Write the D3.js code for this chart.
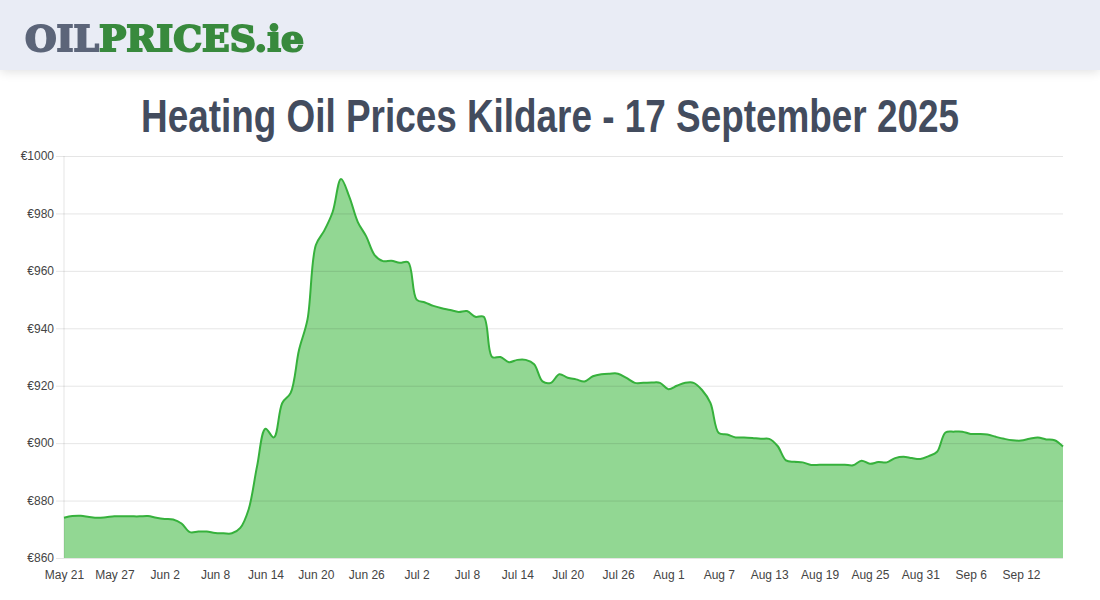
<!DOCTYPE html>
<html>
<head>
<meta charset="utf-8">
<script src="https://cdn.jsdelivr.net/npm/d3@7"></script>
<style>
  html, body { margin: 0; padding: 0; background: #fff; overflow: hidden; }
  #header { position: absolute; left: 0; top: 0; width: 1100px; height: 70px; background: #e9ecf5; box-shadow: 0 2px 10px rgba(0,0,0,0.12); }
  #chart { position: absolute; left: 0; top: 0; }
</style>
</head>
<body>
<div id="header"></div>
<svg id="chart" width="1100" height="600"></svg>
<script>
// daily price, one value per day from May 21
var prices = [
  874, 874.6, 874.7, 874.3, 874, 874.2, 874.5, 874.5, 874.5, 874.5,
  874.6, 874, 873.6, 873.4, 872, 869, 869.2, 869.2, 868.7, 868.6,
  868.6, 870.5, 877, 892, 905, 902, 914, 917.5, 932.5, 943,
  969, 974, 980.5, 992, 985.7, 977, 972, 965.5, 963.4, 963.5,
  962.8, 963, 950, 949, 947.8, 947, 946.4, 945.7, 946, 944,
  944, 930, 930, 928.2, 929, 929, 927.5, 921.5, 921, 924,
  922.8, 922.2, 921.5, 923.3, 924, 924.2, 924.2, 922.7, 921, 921,
  921.1, 921, 918.8, 920, 921, 921, 918.5, 914, 903.5, 903,
  902, 902, 901.8, 901.5, 901.5, 899, 894, 893.5, 893.3, 892.4,
  892.5, 892.5, 892.5, 892.5, 892.3, 893.9, 892.8, 893.4, 893.3, 894.8,
  895.3, 894.8, 894.5, 895.5, 897, 903.7, 904, 904, 903.2, 903.2,
  903, 902.2, 901.5, 901, 900.9, 901.5, 902, 901.3, 901, 898.8
];
// one label every 6 days
var xLabels = ["May 21", "May 27", "Jun 2", "Jun 8", "Jun 14", "Jun 20", "Jun 26", "Jul 2", "Jul 8", "Jul 14",
  "Jul 20", "Jul 26", "Aug 1", "Aug 7", "Aug 13", "Aug 19", "Aug 25", "Aug 31", "Sep 6", "Sep 12"];
var yTicks = [860, 880, 900, 920, 940, 960, 980, 1000];
var labelStep = 6;

var svg = d3.select("#chart"),
  plot = { left: 64, right: 1063, top: 156, bottom: 558 },
  gridColor = "rgba(0,0,0,0.1)";

var x = d3.scaleLinear().domain([0, prices.length - 1]).range([plot.left, plot.right]),
  y = d3.scaleLinear().domain([860, 1000]).range([plot.bottom, plot.top]);

// logo
var defs = svg.append("defs");
defs.append("filter").attr("id", "soft").append("feGaussianBlur").attr("stdDeviation", 0.5);
var logo = svg.append("text")
  .attr("x", 25).attr("y", 51)
  .attr("font-family", "'DejaVu Serif', serif")
  .attr("font-weight", "bold")
  .attr("font-size", 36)
  .attr("textLength", 279)
  .attr("lengthAdjust", "spacingAndGlyphs")
  .attr("stroke-width", 2)
  .attr("filter", "url(#soft)");
logo.append("tspan").attr("fill", "#5b6579").attr("stroke", "#5b6579").text("OIL");
logo.append("tspan").attr("fill", "#388a3c").attr("stroke", "#388a3c").text("PRICES.ie");

// title
svg.append("text")
  .attr("x", 550).attr("y", 132)
  .attr("text-anchor", "middle")
  .attr("font-family", "'Liberation Sans Narrow', 'Liberation Sans', sans-serif")
  .attr("font-weight", "bold")
  .attr("font-size", 47)
  .attr("fill", "#434c5e")
  .attr("textLength", 818)
  .attr("lengthAdjust", "spacingAndGlyphs")
  .text("Heating Oil Prices Kildare - 17 September 2025");

// area goes under the grid, the line over it
var curve = d3.curveCatmullRom.alpha(0.5);
var area = d3.area()
  .x(function (d, i) { return x(i); })
  .y0(plot.bottom)
  .y1(function (d) { return y(d); })
  .curve(curve);
var line = d3.line()
  .x(function (d, i) { return x(i); })
  .y(function (d) { return y(d); })
  .curve(curve);

svg.append("path").datum(prices).attr("d", area).attr("fill", "rgba(37,175,39,0.5)");

// grid and axes
var yAxis = d3.axisLeft(y).tickValues(yTicks).tickSize(8).tickPadding(2)
  .tickFormat(function (d) { return "€" + d; });
var gy = svg.append("g").attr("transform", "translate(" + plot.left + ",0)").call(yAxis);
gy.select(".domain").remove();
gy.selectAll(".tick line").attr("stroke", gridColor);
gy.selectAll(".tick").append("line").attr("x1", 0).attr("x2", plot.right - plot.left).attr("stroke", gridColor);
gy.selectAll("text").attr("font-family", "'Liberation Sans', Arial, sans-serif").attr("font-size", 12).attr("fill", "#444");

var xAxis = d3.axisBottom(x)
  .tickValues(xLabels.map(function (d, i) { return i * labelStep; }))
  .tickSize(0).tickPadding(12)
  .tickFormat(function (d) { return xLabels[d / labelStep]; });
var gx = svg.append("g").attr("transform", "translate(0," + plot.bottom + ")").call(xAxis);
gx.select(".domain").remove();
gx.selectAll("text").attr("font-family", "'Liberation Sans', Arial, sans-serif").attr("font-size", 12).attr("fill", "#444");

svg.append("line").attr("x1", plot.left).attr("x2", plot.left).attr("y1", plot.top).attr("y2", plot.bottom).attr("stroke", gridColor);

svg.append("path").datum(prices).attr("d", line).attr("fill", "none").attr("stroke", "#36b13c").attr("stroke-width", 2);
</script>
</body>
</html>
